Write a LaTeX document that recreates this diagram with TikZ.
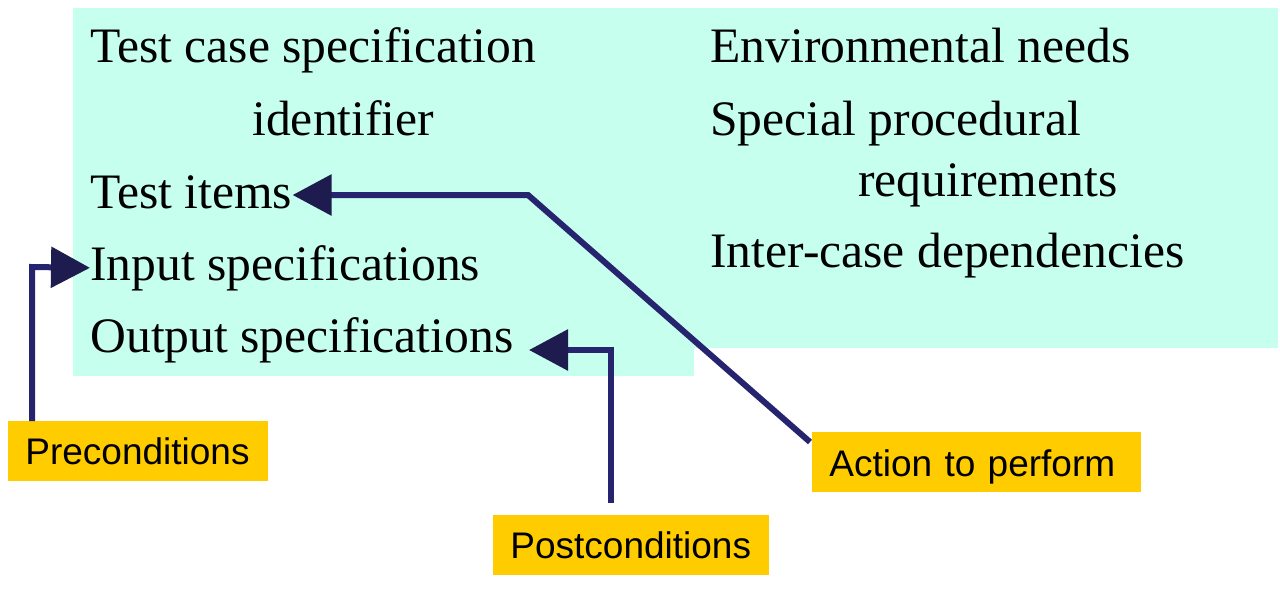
\documentclass[tikz,border=0pt]{standalone}
\usepackage{fontspec}
\setmainfont{Liberation Serif}
\setsansfont{Liberation Sans}
\usepackage{tikz}
\usetikzlibrary{arrows.meta}

\definecolor{panel}{RGB}{198,255,238}
\definecolor{tagyellow}{RGB}{255,204,0}
\definecolor{wire}{RGB}{38,36,110}
\definecolor{wirehead}{RGB}{30,27,78}

\tikzset{
  item/.style={anchor=base west, inner sep=0pt, font=\fontsize{24.8}{29}\selectfont},
  tag/.style={anchor=north west, fill=tagyellow, inner xsep=8.5pt, inner ysep=0pt,
    minimum height=30pt, align=left, font=\sffamily\fontsize{18.5}{22}\selectfont},
  wirearrow/.style={draw=wire, line width=3pt, line join=miter,
    -{Triangle[length=19.5pt,width=20pt,color=wirehead]}}
}

\begin{document}
\begin{tikzpicture}[x=0.5pt,y=-0.5pt]

\useasboundingbox (0,0) rectangle (1280,591);

% background panels
\fill[panel] (73,8) rectangle (694,376);
\fill[panel] (694,8) rectangle (1278,348);

% left column
\node[item] (spec)   at (90,62)  {Test case specification};
\node[item] (ident)  at (252,135) {identifier};
\node[item] (items)  at (90,208) {Test items};
\node[item] (input)  at (90,280) {Input specifications};
\node[item] (output) at (90,352) {Output specifications};

% right column
\node[item] (env)  at (710,62)  {Environmental needs};
\node[item] (proc) at (710,135) {Special procedural};
\node[item] (req)  at (858,196) {requirements};
\node[item] (dep)  at (710,267) {Inter-case dependencies};

% labels
\node[tag, text width=113pt] (pre)  at (8,421)   {Preconditions};
\node[tag, text width=147.5pt, text height=18.5pt, text depth=4pt] (act) at (812,432) {Action to perform};
\node[tag, text width=121pt] (post) at (493,515) {Postconditions};

\coordinate (preturn)  at (32,267);
\coordinate (actturn)  at (528,195);
\coordinate (actend)   at (810,442);
\coordinate (postturn) at (611,350);
\coordinate (posttip)  at (529,350);
\coordinate (postend)  at (611,503);

\draw[wirearrow] (preturn |- pre.north) -- (preturn) -- (input.west);
\draw[wirearrow] (actend) -- (actturn) -- (actturn -| items.east);
\draw[wirearrow] (postend) -- (postturn) -- (posttip);

\end{tikzpicture}
\end{document}
